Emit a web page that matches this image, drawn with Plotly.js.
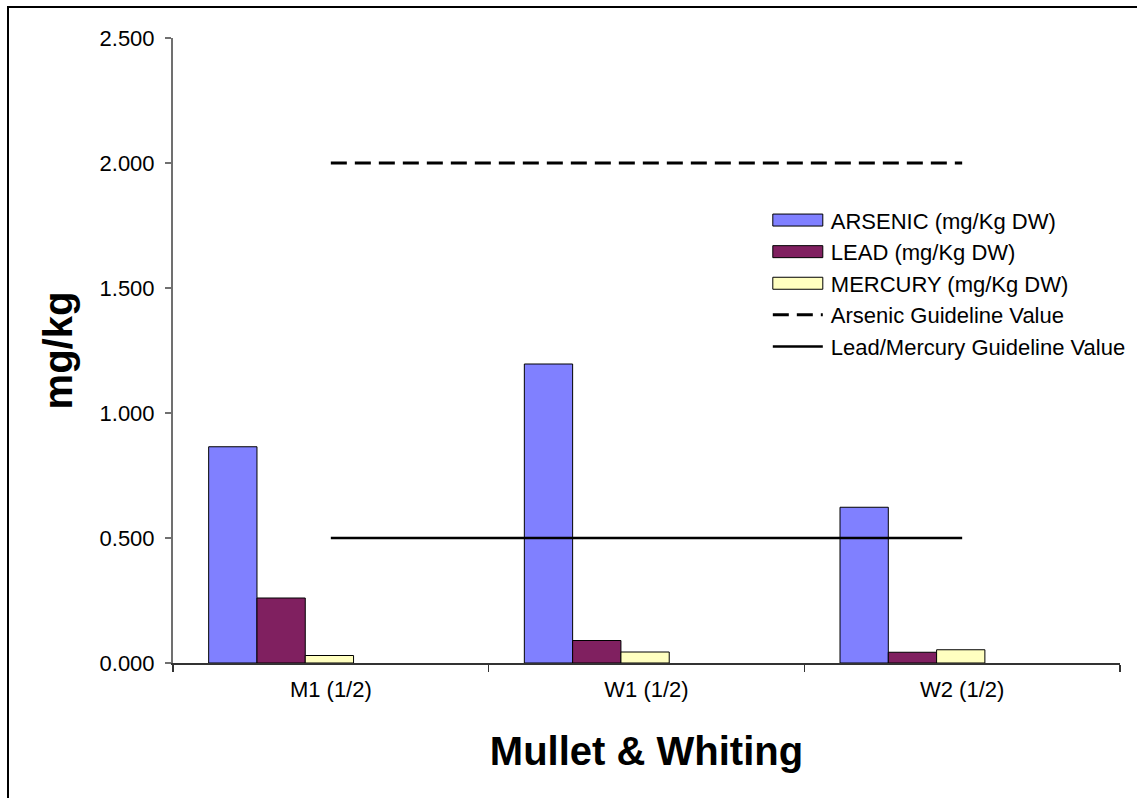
<!DOCTYPE html>
<html>
<head>
<meta charset="utf-8">
<script src="https://cdn.plot.ly/plotly-3.0.1.min.js"></script>
<style>
html, body { margin: 0; padding: 0; overflow: hidden; background: #fff; }
#chart { width: 1137px; height: 798px; position: relative; }
#frame { position: absolute; left: 7px; top: 6px; width: 1130px; height: 792px;
  border-left: 2px solid #000; border-top: 2px solid #000; box-sizing: border-box; pointer-events: none; }
</style>
</head>
<body>
<div id="chart"></div>
<div id="frame"></div>
<script>
var categories = ['M1 (1/2)', 'W1 (1/2)', 'W2 (1/2)'];
var arsenic = [0.865, 1.196, 0.623];
var lead = [0.260, 0.090, 0.043];
var mercury = [0.030, 0.044, 0.053];
var arsenicGuideline = [2.0, 2.0, 2.0];
var leadMercuryGuideline = [0.5, 0.5, 0.5];
var yTickVals = [0, 0.5, 1.0, 1.5, 2.0, 2.5];
var yTickText = ['0.000', '0.500', '1.000', '1.500', '2.000', '2.500'];

var FONT = 'Arial, "Liberation Sans", sans-serif';
var barW = 0.153;

var data = [
  {type: 'bar', name: 'ARSENIC (mg/Kg DW)', x: categories, y: arsenic,
   width: barW, offset: -0.387, legendgroup: 'a',
   marker: {color: '#8080FF', line: {color: '#000000', width: 1}}},
  {type: 'bar', name: 'LEAD (mg/Kg DW)', x: categories, y: lead,
   width: barW, offset: -0.234, legendgroup: 'b',
   marker: {color: '#802060', line: {color: '#000000', width: 1}}},
  {type: 'bar', name: 'MERCURY (mg/Kg DW)', x: categories, y: mercury,
   width: barW, offset: -0.081, legendgroup: 'c',
   marker: {color: '#FFFFC0', line: {color: '#000000', width: 1}}},
  {type: 'scatter', mode: 'lines', name: 'Arsenic Guideline Value', x: categories, y: arsenicGuideline,
   legendgroup: 'd', line: {color: '#000000', width: 3, dash: '16px,8px'}},
  {type: 'scatter', mode: 'lines', name: 'Lead/Mercury Guideline Value', x: categories, y: leadMercuryGuideline,
   legendgroup: 'e', line: {color: '#000000', width: 2.5}}
];

var layout = {
  width: 1137, height: 798,
  margin: {l: 173, r: 17, t: 38, b: 135, pad: 0, autoexpand: false},
  paper_bgcolor: '#ffffff', plot_bgcolor: '#ffffff',
  font: {family: FONT, size: 22, color: '#000000'},
  barmode: 'overlay',
  showlegend: true,
  legend: {x: 0.6281, xanchor: 'left', y: 0.742, yanchor: 'top',
           bgcolor: 'rgba(0,0,0,0)', borderwidth: 0, itemwidth: 53,
           tracegroupgap: 2, font: {family: FONT, size: 22, color: '#000'},
           traceorder: 'normal', itemclick: false, itemdoubleclick: false},
  xaxis: {type: 'category', categoryorder: 'array', categoryarray: categories,
          range: [-0.5, 2.5], tickson: 'boundaries', ticks: 'outside', ticklen: 7,
          tickcolor: '#333', tickwidth: 1.5, showline: true, linecolor: '#333', linewidth: 1.5,
          showgrid: false, zeroline: false, fixedrange: true, ticklabelstandoff: 6,
          tickfont: {family: FONT, size: 22, color: '#000'},
          title: {text: 'Mullet & Whiting', standoff: 36, font: {family: FONT, size: 40, color: '#000', weight: 'bold'}}},
  yaxis: {range: [0, 2.5], tickmode: 'array', tickvals: yTickVals, ticktext: yTickText,
          ticks: 'outside', ticklen: 6, tickcolor: '#707070', tickwidth: 1.5,
          showline: true, linecolor: '#707070', linewidth: 2,
          showgrid: false, zeroline: false, fixedrange: true, ticklabelstandoff: 6,
          tickfont: {family: FONT, size: 22, color: '#000'},
          title: {text: 'mg/kg', standoff: 15, font: {family: FONT, size: 40, color: '#000', weight: 'bold'}}}
};

var gd = document.getElementById('chart');
Plotly.newPlot(gd, data, layout, {staticPlot: true, displayModeBar: false}).then(function () {
  try {
    var bars = gd.querySelectorAll('.legend .legendpoints path');
    bars.forEach(function (p) {
      var d = p.getAttribute('d') || '';
      if (/^M6,6H-6V-6H6Z/.test(d)) {
        p.setAttribute('d', 'M25,6H-25V-6H25Z');
        p.setAttribute('transform', 'translate(30,0)');
      }
    });
    var lines = gd.querySelectorAll('.legend .legendlines path');
    lines.forEach(function (p) { p.setAttribute('d', 'M5,0h50'); });
  } catch (e) {}
});
</script>
</body>
</html>
